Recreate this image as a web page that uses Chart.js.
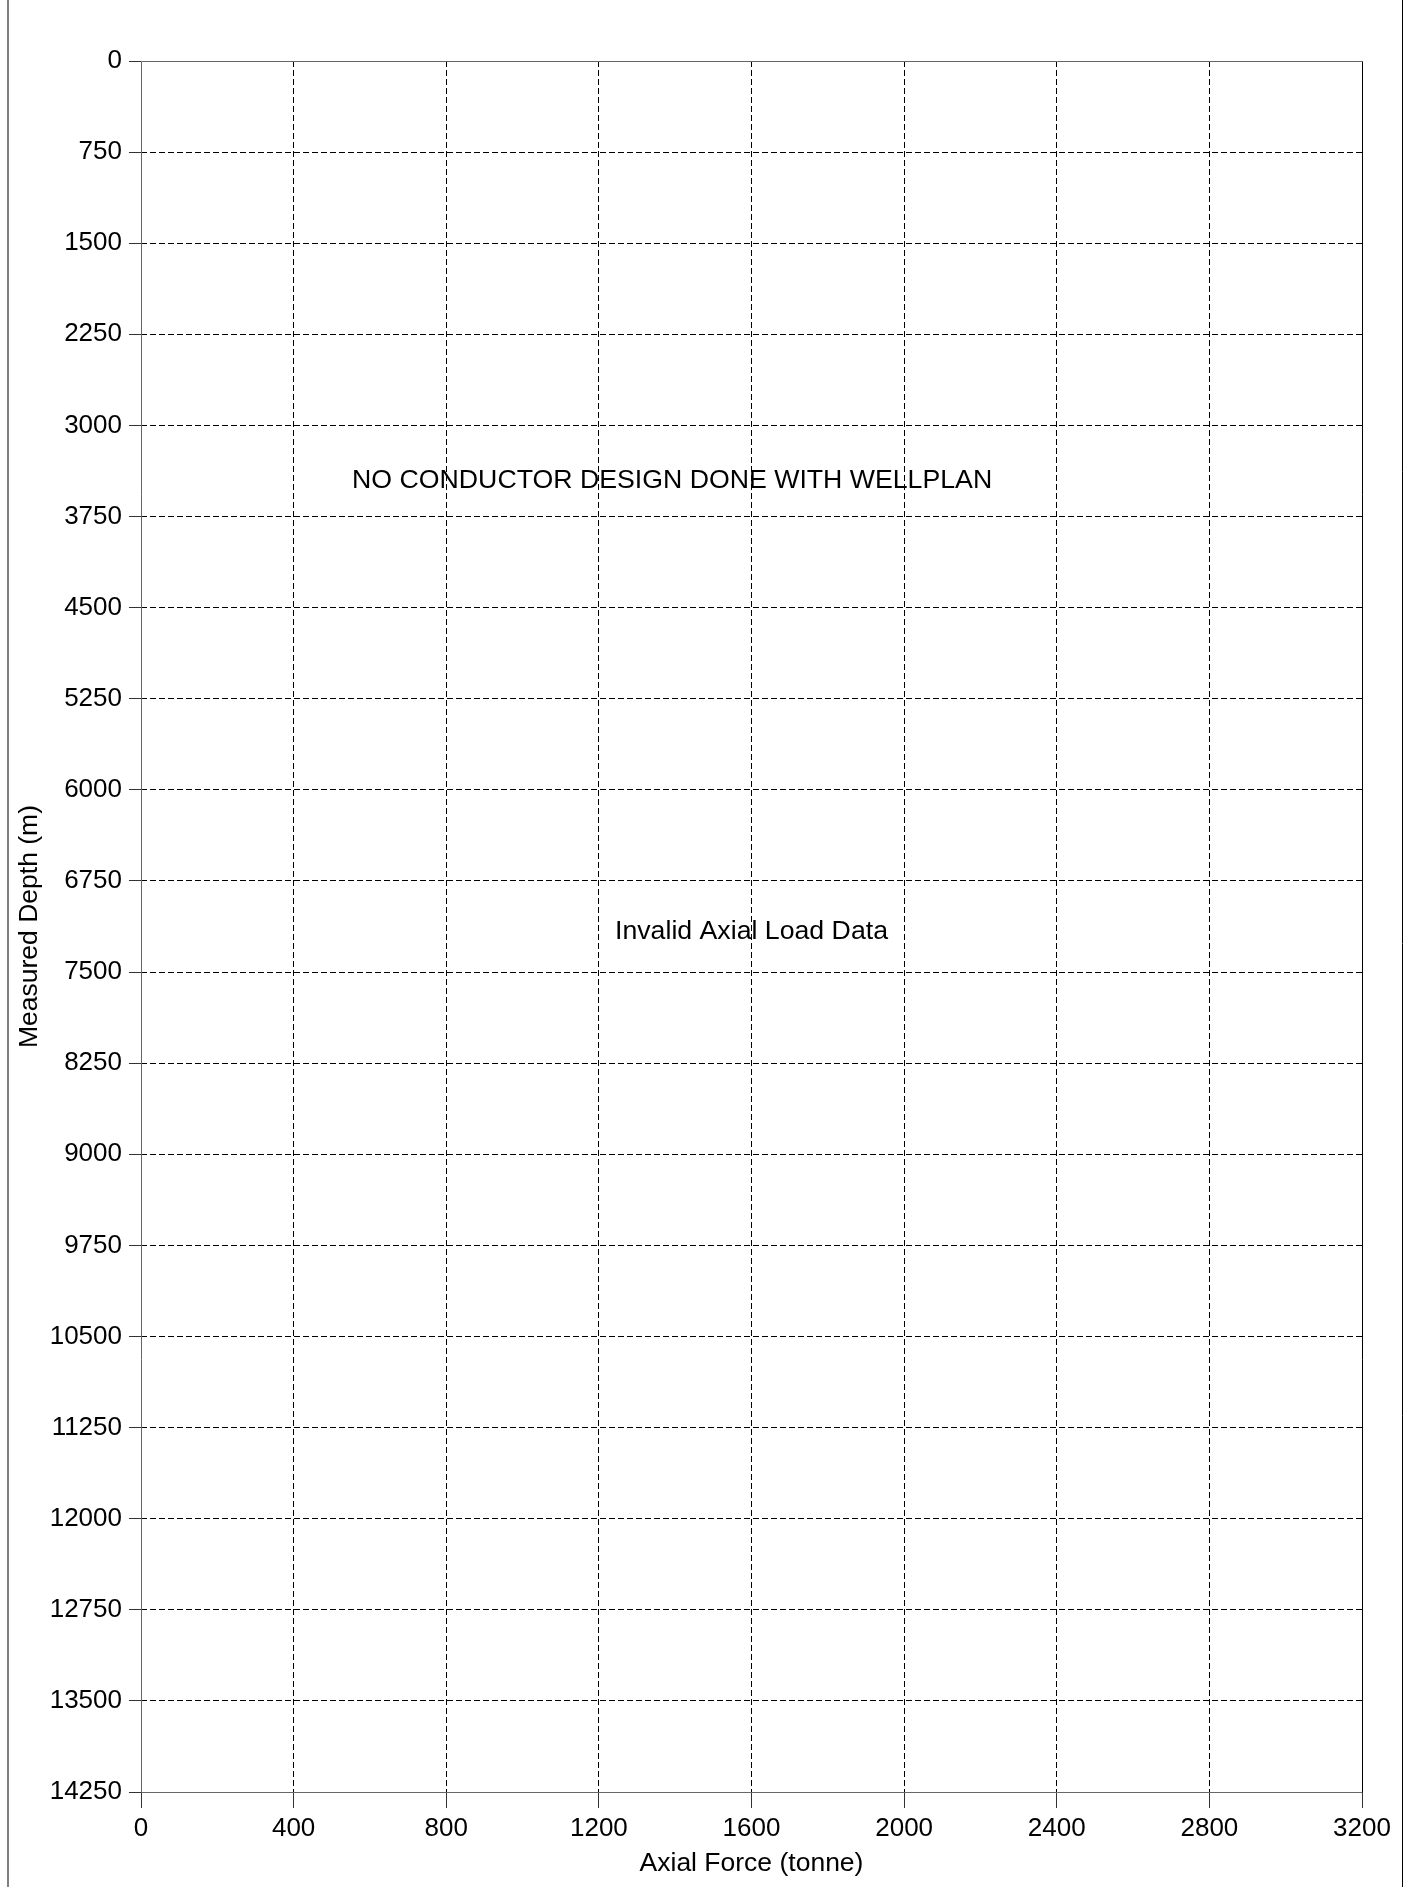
<!DOCTYPE html>
<html lang="en">
<head>
    <meta charset="UTF-8">
    <title>Axial Load</title>
    <script src="https://cdn.jsdelivr.net/npm/chart.js"></script>
    <style>
        html, body { margin: 0; padding: 0; background: #fff; }
        canvas { display: block; }
    </style>
</head>
<body>
    <canvas id="axialChart" width="1409" height="1887"></canvas>
    <script>
        // Axis ranges and tick steps
        const forceRange = [0, 3200];
        const forceStep = 400;
        const depthRange = [0, 14250];
        const depthStep = 750;

        // Load curve: nothing to plot for this well
        const axialLoad = [];

        // Notes written on the plot, placed in data units
        const noteTexts = ['NO CONDUCTOR DESIGN DONE WITH WELLPLAN', 'Invalid Axial Load Data'];
        const noteForce = [1392, 1600];
        const noteDepth = [3453, 7166];

        const FONT = "'Liberation Sans', Arial, sans-serif";

        // dashed grid inside, edges left to the solid frame
        const gridColor = range => c => (c.tick && (c.tick.value === range[0] || c.tick.value === range[1])) ? 'rgba(0,0,0,0)' : '#000';
        const plainLabel = v => String(v);

        const framePlugin = {
            id: 'frame',
            beforeDraw(chart) {
                const ctx = chart.ctx;
                ctx.save();
                ctx.strokeStyle = '#808080';
                ctx.lineWidth = 2;
                ctx.beginPath();
                ctx.moveTo(8, 0);
                ctx.lineTo(8, chart.height);
                ctx.stroke();
                ctx.strokeStyle = '#000';
                ctx.lineWidth = 1;
                ctx.beginPath();
                ctx.moveTo(1402.5, 0);
                ctx.lineTo(1402.5, chart.height);
                ctx.stroke();
                ctx.restore();
            },
            afterDraw(chart) {
                const { ctx, chartArea: a } = chart;
                const l = Math.round(a.left) + 0.5, r = Math.round(a.right) + 0.5;
                const t = Math.round(a.top) + 0.5, b = Math.round(a.bottom) + 0.5;
                ctx.save();
                ctx.lineWidth = 1;
                ctx.strokeStyle = '#666';
                ctx.beginPath();
                ctx.moveTo(l, b);
                ctx.lineTo(l, t);
                ctx.lineTo(r, t);
                ctx.moveTo(l, b);
                ctx.lineTo(r, b);
                ctx.stroke();
                ctx.strokeStyle = '#000';
                ctx.beginPath();
                ctx.moveTo(r, t);
                ctx.lineTo(r, b);
                ctx.stroke();

                // notes
                const xs = chart.scales.x, ys = chart.scales.y;
                ctx.fillStyle = '#000';
                ctx.font = '26.7px ' + FONT;
                ctx.textAlign = 'center';
                ctx.textBaseline = 'middle';
                noteTexts.forEach((txt, i) => {
                    ctx.fillText(txt, xs.getPixelForValue(noteForce[i]), ys.getPixelForValue(noteDepth[i]));
                });
                ctx.restore();
            }
        };

        const ctx = document.getElementById('axialChart').getContext('2d');
        new Chart(ctx, {
            type: 'scatter',
            data: {
                datasets: [{
                    label: 'Axial Load',
                    data: axialLoad,
                    borderColor: '#000',
                    showLine: true,
                    pointRadius: 0
                }]
            },
            options: {
                responsive: false,
                animation: false,
                devicePixelRatio: 1,
                layout: { padding: { left: 0, top: 61, right: 47, bottom: 0 } },
                plugins: {
                    legend: { display: false },
                    tooltip: { enabled: false }
                },
                scales: {
                    x: {
                        type: 'linear',
                        position: 'bottom',
                        min: forceRange[0],
                        max: forceRange[1],
                        afterFit: s => { s.height = 95; },
                        ticks: {
                            stepSize: forceStep,
                            color: '#000',
                            padding: 5,
                            maxRotation: 0,
                            autoSkip: false,
                            callback: plainLabel,
                            font: { family: FONT, size: 26 }
                        },
                        grid: {
                            color: gridColor(forceRange),
                            lineWidth: 1,
                            tickLength: 16,
                            tickColor: '#333'
                        },
                        border: { display: false, dash: [6, 3] },
                        title: {
                            display: true,
                            text: 'Axial Force (tonne)',
                            color: '#000',
                            padding: { top: 0, bottom: 7 },
                            font: { family: FONT, size: 26.5 }
                        }
                    },
                    y: {
                        type: 'linear',
                        position: 'left',
                        reverse: true,
                        min: depthRange[0],
                        max: depthRange[1],
                        afterFit: s => { s.width = 141; },
                        ticks: {
                            stepSize: depthStep,
                            color: '#000',
                            padding: 7,
                            autoSkip: false,
                            callback: plainLabel,
                            font: { family: FONT, size: 26 }
                        },
                        grid: {
                            color: gridColor(depthRange),
                            lineWidth: 1,
                            tickLength: 12,
                            tickColor: '#333'
                        },
                        border: { display: false, dash: [6, 3] },
                        title: {
                            display: true,
                            text: 'Measured Depth (m)',
                            color: '#000',
                            padding: { top: 14, bottom: 0 },
                            font: { family: FONT, size: 26.5 }
                        }
                    }
                }
            },
            plugins: [framePlugin]
        });
    </script>
</body>
</html>
